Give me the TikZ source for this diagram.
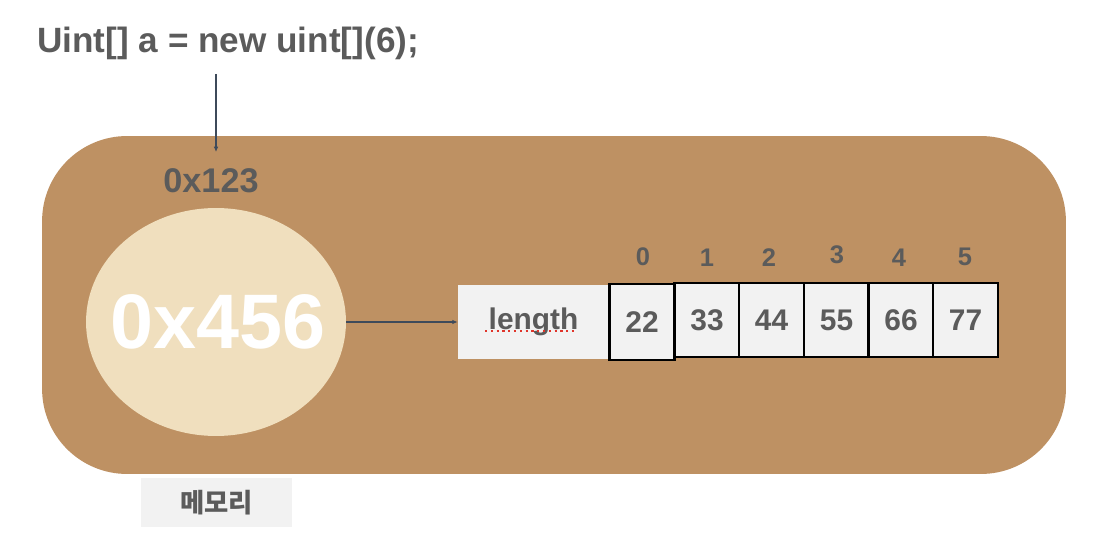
\documentclass[tikz,border=0pt]{standalone}
\usepackage{fontspec}
\setmainfont{Liberation Sans}
\newfontfamily\krfont{Noto Sans CJK KR}
\usetikzlibrary{arrows.meta, shapes.geometric}

\definecolor{textgray}{HTML}{5B5B5B}
\definecolor{membrown}{HTML}{BE9163}
\definecolor{heapcream}{HTML}{F0DFBE}
\definecolor{cellgray}{HTML}{F2F2F2}
\definecolor{arrowgray}{HTML}{3E4A5A}
\definecolor{spellred}{HTML}{E0352B}

\tikzset{
    label/.style={font=\bfseries, text=textgray, inner sep=0pt},
    cell/.style={draw=black, line width=1.2pt, fill=cellgray, minimum width=1.3cm, minimum height=1.48cm, inner sep=0pt, font=\fontsize{17}{19}\bfseries, text=textgray},
    ptr/.style={-{Latex[length=3pt, width=2.6pt]}, line width=0.6pt, color=arrowgray}
}

\begin{document}
\begin{tikzpicture}[x=0.02cm, y=-0.02cm]
    \useasboundingbox (0, 0) rectangle (1104, 560);

    % code line
    \node [label, font=\fontsize{20}{24}\bfseries, anchor=west] (code) at (37, 43) {Uint[] a = new uint[](6);};
    \coordinate (codefoot) at (216, 74);
    \coordinate (memtop) at (216, 152);

    % memory area
    \node [fill=membrown, rounded corners=1.7cm, minimum width=20.48cm, minimum height=6.76cm] (mem) at (554, 305) {};
    \draw [ptr] (codefoot) -- (memtop);
    \node [label, font=\fontsize{19.5}{22}\bfseries] (addr) at (211, 181) {0x123};

    \node [ellipse, fill=heapcream, minimum width=5.2cm, minimum height=4.56cm, inner sep=0pt] (heap) at (216, 322) {};
    \node [label, text=white, font=\fontsize{44}{48}\bfseries] (heapaddr) at (218, 322) {0x456};

    % array
    \node [fill=cellgray, minimum width=3.02cm, minimum height=1.48cm, inner sep=0pt, font=\fontsize{17}{19}\bfseries, text=textgray] (lenbox) at (533.5, 322) {length};
    \draw [spellred, dotted, line width=1.3pt] (485, 331) -- (577, 331);
    \draw [ptr] (heap.east) -- (lenbox.west);

    \node [cell, minimum height=1.52cm] (cell0) at (642, 322) {22};
    \foreach \x/\val/\i in {707/33/1, 771.5/44/2, 836.5/55/3, 901/66/4, 965.5/77/5}
        \node [cell] (cell\i) at (\x, 320) {\val};

    \foreach \x/\y/\i in {643/257/0, 707/258/1, 769/258/2, 837/255/3, 899/258/4, 965/257/5}
        \node [label, font=\fontsize{14.5}{16}\bfseries] (idx\i) at (\x, \y) {\i};

    % caption
    \node [fill=cellgray, minimum width=3.02cm, minimum height=0.98cm, inner sep=0pt, font=\krfont\fontsize{15}{17}\bfseries, text=textgray] (memcap) at (216.5, 502.5) {메모리};
\end{tikzpicture}
\end{document}
